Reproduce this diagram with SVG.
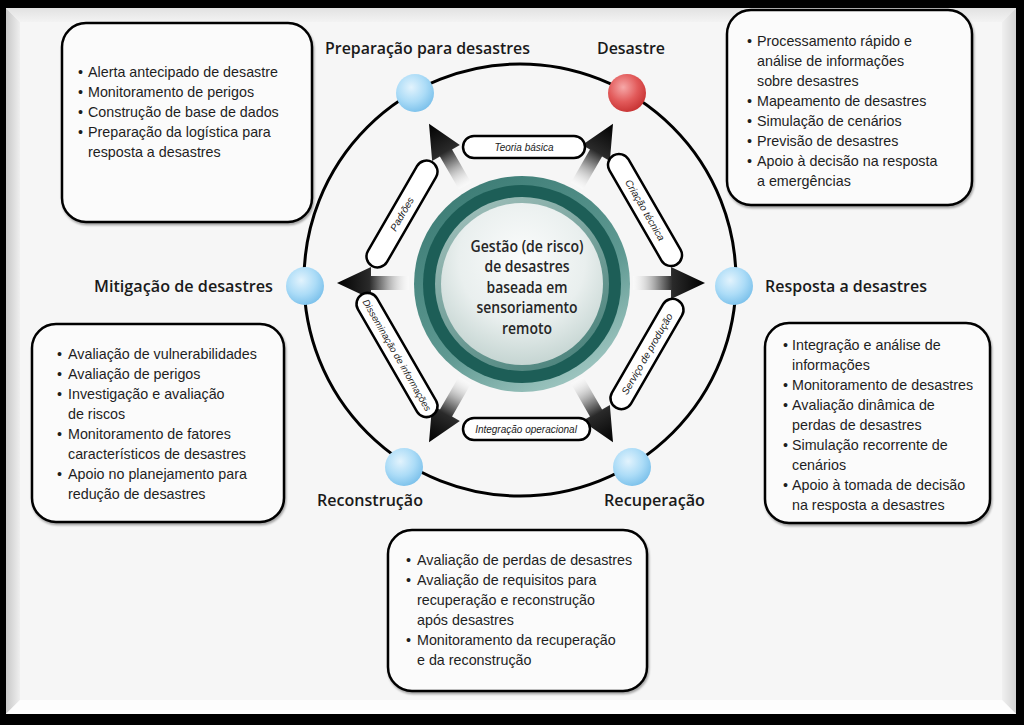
<svg xmlns="http://www.w3.org/2000/svg" width="1024" height="725" viewBox="0 0 1024 725">
<defs>
<linearGradient id="bevL" x1="0" y1="0" x2="1" y2="0"><stop offset="0" stop-color="#c8c8c8"/><stop offset="1" stop-color="#efefef"/></linearGradient>
<linearGradient id="bevR" x1="0" y1="0" x2="1" y2="0"><stop offset="0" stop-color="#f0f0f0"/><stop offset="1" stop-color="#d4d4d4"/></linearGradient>
<linearGradient id="bevT" x1="0" y1="0" x2="0" y2="1"><stop offset="0" stop-color="#e2e2e2"/><stop offset="1" stop-color="#f3f3f3"/></linearGradient>
<linearGradient id="arr" x1="0" y1="0" x2="1" y2="0"><stop offset="0" stop-color="#ffffff" stop-opacity="0.3"/><stop offset="0.3" stop-color="#a8a8a8"/><stop offset="0.55" stop-color="#2a2a2a"/><stop offset="1" stop-color="#000"/></linearGradient>
<radialGradient id="blue" cx="0.4" cy="0.35" r="0.7"><stop offset="0" stop-color="#e2f3fd"/><stop offset="0.55" stop-color="#acdcf7"/><stop offset="1" stop-color="#78bfea"/></radialGradient>
<radialGradient id="red" cx="0.4" cy="0.35" r="0.7"><stop offset="0" stop-color="#f6a8a8"/><stop offset="0.55" stop-color="#e25a5a"/><stop offset="1" stop-color="#c53030"/></radialGradient>
<linearGradient id="ringOut" x1="0.2" y1="0" x2="0.8" y2="1"><stop offset="0" stop-color="#3b7b74"/><stop offset="0.6" stop-color="#5f9992"/><stop offset="1" stop-color="#a9cdc8"/></linearGradient>
<linearGradient id="ringIn" x1="0.2" y1="0" x2="0.8" y2="1"><stop offset="0" stop-color="#9fbfba"/><stop offset="1" stop-color="#4a827b"/></linearGradient>
<radialGradient id="disc" cx="0.5" cy="0.35" r="0.65"><stop offset="0" stop-color="#fbfcfc"/><stop offset="0.6" stop-color="#e9efee"/><stop offset="1" stop-color="#c5d5d2"/></radialGradient>
<filter id="sh" x="-5%" y="-5%" width="110%" height="115%"><feDropShadow dx="1" dy="2" stdDeviation="1.2" flood-color="#000" flood-opacity="0.35"/></filter>
<path id="arrowShape" d="M0,-7 L38,-7 L38,-16 L72,0 L38,16 L38,7 L0,7 Z"/>
</defs>
<style>
.box{fill:#fbfbfb;stroke:#000;stroke-width:2.5}
.bt{font-family:"Liberation Sans",Arial,sans-serif;font-size:14.3px;fill:#1e1e1e}
.lbl{font-family:"Open Sans","Noto Sans",sans-serif;font-weight:600;font-size:17px;fill:#1a1a1a}
.ctr{font-family:"Open Sans","Noto Sans",sans-serif;font-weight:600;font-size:16px;fill:#262626;text-anchor:middle}
.pill{fill:#fff;stroke:#000;stroke-width:2.5}
.pt{font-family:"Liberation Sans",Arial,sans-serif;font-style:italic;font-size:10px;fill:#222;text-anchor:middle}
.node{stroke:none}
</style>
<rect x="0" y="0" width="1024" height="725" fill="#000"/>
<rect x="6" y="8" width="1010" height="706" fill="#f6f6f6"/>
<polygon points="6,8 20,22 20,700 6,714" fill="url(#bevL)"/>
<polygon points="6,8 1016,8 1002,22 20,22" fill="url(#bevT)"/>
<polygon points="1016,8 1016,714 1002,700 1002,22" fill="url(#bevR)"/>
<polygon points="6,714 20,700 1002,700 1016,714" fill="#fdfdfd"/>

<g id="outer-ring"><circle cx="520" cy="280" r="216" fill="none" stroke="#000" stroke-width="3"/></g>

<g id="connectors">
<use href="#arrowShape" fill="url(#arr)" transform="translate(521,283) rotate(-120) translate(112,0)"/>
<use href="#arrowShape" fill="url(#arr)" transform="translate(521,283) rotate(-60) translate(112,0)"/>
<use href="#arrowShape" fill="url(#arr)" transform="translate(521,283) rotate(180) translate(112,0)"/>
<use href="#arrowShape" fill="url(#arr)" transform="translate(521,283) rotate(0) translate(112,0)"/>
<use href="#arrowShape" fill="url(#arr)" transform="translate(521,283) rotate(120) translate(112,0)"/>
<use href="#arrowShape" fill="url(#arr)" transform="translate(521,283) rotate(60) translate(112,0)"/>
</g>

<g id="center">
<circle cx="522" cy="284" r="108" fill="url(#ringOut)"/>
<circle cx="522" cy="284" r="99" fill="#1d5e57"/>
<circle cx="522" cy="284" r="87" fill="url(#ringIn)"/>
<circle cx="522" cy="284" r="81" fill="url(#disc)"/>
<text class="ctr" x="527" y="252" textLength="113" lengthAdjust="spacingAndGlyphs">Gestão (de risco)</text>
<text class="ctr" x="527" y="272" textLength="85" lengthAdjust="spacingAndGlyphs">de desastres</text>
<text class="ctr" x="527" y="293" textLength="81" lengthAdjust="spacingAndGlyphs">baseada em</text>
<text class="ctr" x="527" y="313" textLength="101" lengthAdjust="spacingAndGlyphs">sensoriamento</text>
<text class="ctr" x="527" y="334" textLength="50" lengthAdjust="spacingAndGlyphs">remoto</text>
</g>

<g id="pill-teoria"><rect class="pill" x="463" y="136" width="122" height="22" rx="11"/><text class="pt" x="524" y="150.5">Teoria básica</text></g>
<g id="pill-criacao" transform="translate(645,210) rotate(60)"><rect class="pill" x="-63" y="-11" width="126" height="22" rx="11"/><text class="pt" x="0" y="3.5">Criação técnica</text></g>
<g id="pill-servico" transform="translate(647,354) rotate(-60)"><rect class="pill" x="-62" y="-11" width="124" height="22" rx="11"/><text class="pt" x="0" y="3.5">Serviço de produção</text></g>
<g id="pill-integracao"><rect class="pill" x="463" y="418" width="127" height="22" rx="11"/><text class="pt" x="526" y="432.5">Integração operacional</text></g>
<g id="pill-disseminacao" transform="translate(397,355) rotate(60)"><rect class="pill" x="-70" y="-11" width="140" height="22" rx="11"/><text class="pt" x="0" y="3.5" style="font-size:9.5px">Disseminação de informações</text></g>
<g id="pill-padroes" transform="translate(402,214) rotate(-60)"><rect class="pill" x="-60" y="-11" width="120" height="22" rx="11"/><text class="pt" x="0" y="3.5">Padrões</text></g>

<g id="node-preparacao"><circle class="node" cx="415" cy="93" r="19" fill="url(#blue)"/><text class="lbl" x="325" y="54" textLength="205" lengthAdjust="spacingAndGlyphs">Preparação para desastres</text></g>
<g id="node-desastre"><circle class="node" cx="627" cy="93" r="19" fill="url(#red)"/><text class="lbl" x="597" y="54" textLength="68" lengthAdjust="spacingAndGlyphs">Desastre</text></g>
<g id="node-mitigacao"><circle class="node" cx="305" cy="286" r="19" fill="url(#blue)"/><text class="lbl" x="94" y="292" textLength="179" lengthAdjust="spacingAndGlyphs">Mitigação de desastres</text></g>
<g id="node-resposta"><circle class="node" cx="734" cy="286" r="19" fill="url(#blue)"/><text class="lbl" x="765" y="292" textLength="162" lengthAdjust="spacingAndGlyphs">Resposta a desastres</text></g>
<g id="node-reconstrucao"><circle class="node" cx="404" cy="467" r="19" fill="url(#blue)"/><text class="lbl" x="317" y="506" textLength="106" lengthAdjust="spacingAndGlyphs">Reconstrução</text></g>
<g id="node-recuperacao"><circle class="node" cx="632" cy="467" r="19" fill="url(#blue)"/><text class="lbl" x="604" y="506" textLength="101" lengthAdjust="spacingAndGlyphs">Recuperação</text></g>

<g id="box-preparacao">
<rect class="box" x="62" y="23" width="250" height="199" rx="24" filter="url(#sh)"/>
<text class="bt" x="78" y="77">•</text><text class="bt" x="88" y="77">Alerta antecipado de desastre</text>
<text class="bt" x="78" y="97">•</text><text class="bt" x="88" y="97">Monitoramento de perigos</text>
<text class="bt" x="78" y="117">•</text><text class="bt" x="88" y="117">Construção de base de dados</text>
<text class="bt" x="78" y="137">•</text><text class="bt" x="88" y="137">Preparação da logística para</text>
<text class="bt" x="88" y="157">resposta a desastres</text>
</g>

<g id="box-desastre">
<rect class="box" x="727" y="10" width="245" height="195" rx="24" filter="url(#sh)"/>
<text class="bt" x="747" y="46">•</text><text class="bt" x="757" y="46">Processamento rápido e</text>
<text class="bt" x="757" y="66">análise de informações</text>
<text class="bt" x="757" y="86">sobre desastres</text>
<text class="bt" x="747" y="106">•</text><text class="bt" x="757" y="106">Mapeamento de desastres</text>
<text class="bt" x="747" y="126">•</text><text class="bt" x="757" y="126">Simulação de cenários</text>
<text class="bt" x="747" y="146">•</text><text class="bt" x="757" y="146">Previsão de desastres</text>
<text class="bt" x="747" y="166">•</text><text class="bt" x="757" y="166">Apoio à decisão na resposta</text>
<text class="bt" x="757" y="186">a emergências</text>
</g>

<g id="box-mitigacao">
<rect class="box" x="32" y="324" width="252" height="198" rx="24" filter="url(#sh)"/>
<text class="bt" x="57" y="359">•</text><text class="bt" x="68" y="359">Avaliação de vulnerabilidades</text>
<text class="bt" x="57" y="379">•</text><text class="bt" x="68" y="379">Avaliação de perigos</text>
<text class="bt" x="57" y="399">•</text><text class="bt" x="68" y="399">Investigação e avaliação</text>
<text class="bt" x="68" y="419">de riscos</text>
<text class="bt" x="57" y="439">•</text><text class="bt" x="68" y="439">Monitoramento de fatores</text>
<text class="bt" x="68" y="459">característicos de desastres</text>
<text class="bt" x="57" y="479">•</text><text class="bt" x="68" y="479">Apoio no planejamento para</text>
<text class="bt" x="68" y="499">redução de desastres</text>
</g>

<g id="box-resposta">
<rect class="box" x="765" y="323" width="225" height="200" rx="24" filter="url(#sh)"/>
<text class="bt" x="783" y="350">•</text><text class="bt" x="792" y="350">Integração e análise de</text>
<text class="bt" x="792" y="370">informações</text>
<text class="bt" x="783" y="390">•</text><text class="bt" x="792" y="390">Monitoramento de desastres</text>
<text class="bt" x="783" y="410">•</text><text class="bt" x="792" y="410">Avaliação dinâmica de</text>
<text class="bt" x="792" y="430">perdas de desastres</text>
<text class="bt" x="783" y="450">•</text><text class="bt" x="792" y="450">Simulação recorrente de</text>
<text class="bt" x="792" y="470">cenários</text>
<text class="bt" x="783" y="490">•</text><text class="bt" x="792" y="490">Apoio à tomada de decisão</text>
<text class="bt" x="792" y="510">na resposta a desastres</text>
</g>

<g id="box-recuperacao">
<rect class="box" x="388" y="530" width="259" height="161" rx="24" filter="url(#sh)"/>
<text class="bt" x="406" y="565">•</text><text class="bt" x="417" y="565">Avaliação de perdas de desastres</text>
<text class="bt" x="406" y="585">•</text><text class="bt" x="417" y="585">Avaliação de requisitos para</text>
<text class="bt" x="417" y="605">recuperação e reconstrução</text>
<text class="bt" x="417" y="625">após desastres</text>
<text class="bt" x="406" y="645">•</text><text class="bt" x="417" y="645">Monitoramento da recuperação</text>
<text class="bt" x="417" y="665">e da reconstrução</text>
</g>
</svg>
